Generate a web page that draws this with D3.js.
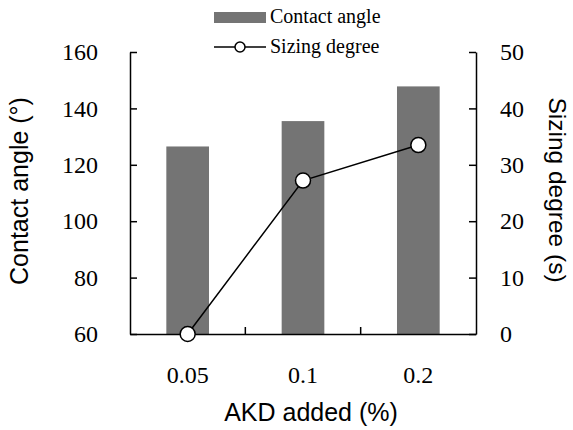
<!DOCTYPE html>
<html>
<head>
<meta charset="utf-8">
<script src="https://cdn.jsdelivr.net/npm/d3@7"></script>
<style>
  body { margin: 0; background: #fff; }
  svg { display: block; }
</style>
</head>
<body>
<svg width="573" height="430"></svg>
<script>
// data
var categories = ["0.05", "0.1", "0.2"]
var contactAngle = [126.5, 135.5, 147.8]
var sizingDegree = [0, 27.2, 33.5]
var leftTicks = [60, 80, 100, 120, 140, 160]
var rightTicks = [0, 10, 20, 30, 40, 50]

var width = 573
var height = 430
var margin = {top: 52, right: 97, bottom: 96, left: 130}
var innerW = width - margin.left - margin.right
var innerH = height - margin.top - margin.bottom
var barColor = "#747474"
var serif = "'Liberation Serif', 'Times New Roman', serif"
var sans = "'Liberation Sans', Arial, sans-serif"

var svg = d3.select("svg")
  .append("g")
  .attr("transform", `translate(${margin.left},${margin.top})`)

var xScale = d3.scaleBand().domain(categories).range([0, innerW]).padding(0)
var yLeft = d3.scaleLinear().domain([60, 160]).range([innerH, 0])
var yRight = d3.scaleLinear().domain([0, 50]).range([innerH, 0])
var barW = xScale.bandwidth() * 0.37

var rows = categories.map((c, i) => ({cat: c, angle: contactAngle[i], sizing: sizingDegree[i]}))

// bars
svg.selectAll(".bar")
  .data(rows)
  .enter().append("rect")
  .attr("class", "bar")
  .attr("x", d => xScale(d.cat) + xScale.bandwidth() / 2 - barW / 2)
  .attr("y", d => yLeft(d.angle))
  .attr("width", barW)
  .attr("height", d => innerH - yLeft(d.angle))
  .style("fill", barColor)

// axes
svg.append("g")
  .attr("class", "axis")
  .call(d3.axisLeft(yLeft).tickValues(leftTicks).tickSize(-7).tickSizeOuter(0).tickPadding(32))

svg.append("g")
  .attr("class", "axis")
  .attr("transform", `translate(${innerW},0)`)
  .call(d3.axisRight(yRight).tickValues(rightTicks).tickSize(-7).tickSizeOuter(0).tickPadding(24))

var xAxisG = svg.append("g")
  .attr("class", "axis")
  .attr("transform", `translate(0,${innerH})`)
  .call(d3.axisBottom(xScale).tickSize(0).tickSizeOuter(0).tickPadding(32))

// ticks between categories, pointing inward
xAxisG.selectAll(".sep")
  .data(categories.slice(1))
  .enter().append("line")
  .attr("class", "sep")
  .attr("x1", d => xScale(d))
  .attr("x2", d => xScale(d))
  .attr("y1", 0)
  .attr("y2", -7)

svg.selectAll(".axis path, .axis line")
  .style("stroke", "#000")
  .style("stroke-width", 1.5)
svg.selectAll(".axis text")
  .style("font-family", serif)
  .style("font-size", "24px")
  .style("fill", "#000")

// line series on right axis
var line = d3.line()
  .x(d => xScale(d.cat) + xScale.bandwidth() / 2)
  .y(d => yRight(d.sizing))

svg.append("path")
  .datum(rows)
  .attr("d", line)
  .style("fill", "none")
  .style("stroke", "#000")
  .style("stroke-width", 1.5)

svg.selectAll(".dot")
  .data(rows)
  .enter().append("circle")
  .attr("class", "dot")
  .attr("cx", d => xScale(d.cat) + xScale.bandwidth() / 2)
  .attr("cy", d => yRight(d.sizing))
  .attr("r", 7.5)
  .style("fill", "#fff")
  .style("stroke", "#000")
  .style("stroke-width", 1.5)

// axis titles
var root = d3.select("svg")
root.append("text")
  .attr("transform", "translate(28,191) rotate(-90)")
  .attr("text-anchor", "middle")
  .style("font-family", sans).style("font-size", "25px")
  .text("Contact angle (°)")

root.append("text")
  .attr("transform", "translate(549,190) rotate(90)")
  .attr("text-anchor", "middle")
  .style("font-family", sans).style("font-size", "24.5px")
  .text("Sizing degree (s)")

root.append("text")
  .attr("x", 311)
  .attr("y", 421)
  .attr("text-anchor", "middle")
  .style("font-family", sans).style("font-size", "25px")
  .text("AKD added (%)")

// legend
var legend = root.append("g")
  .style("font-family", serif)
  .style("font-size", "20px")
legend.append("rect")
  .attr("x", 214).attr("y", 12).attr("width", 52).attr("height", 11)
  .style("fill", barColor)
legend.append("text").attr("x", 270).attr("y", 23).text("Contact angle")
legend.append("line")
  .attr("x1", 214).attr("x2", 266).attr("y1", 47).attr("y2", 47)
  .style("stroke", "#000").style("stroke-width", 1.5)
legend.append("circle")
  .attr("cx", 240).attr("cy", 47).attr("r", 5)
  .style("fill", "#fff").style("stroke", "#000").style("stroke-width", 1.5)
legend.append("text").attr("x", 270).attr("y", 53).text("Sizing degree")
</script>
</body>
</html>
